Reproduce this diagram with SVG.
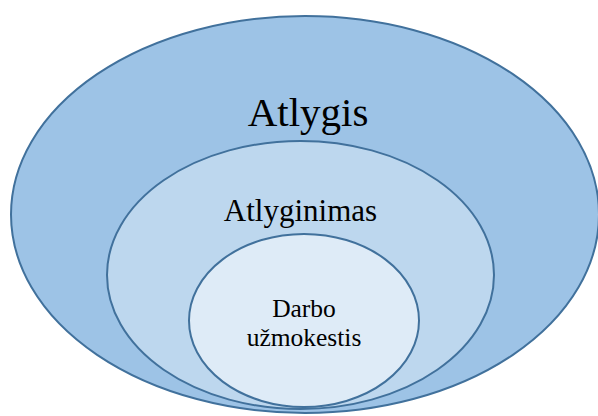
<svg xmlns="http://www.w3.org/2000/svg" width="598" height="416" viewBox="0 0 598 416">
<style>
.e{stroke:#41719c;stroke-width:2}
text{font-family:'Liberation Serif','Times New Roman',serif;fill:#000;text-anchor:middle}
</style>
<rect width="598" height="416" fill="#fff"/>
<g id="atlygis">
<ellipse class="e" cx="305" cy="214.5" rx="294" ry="198.5" fill="#9dc3e6"/>
<text x="308" y="126" font-size="41">Atlygis</text>
</g>
<g id="atlyginimas">
<ellipse class="e" cx="300.5" cy="275" rx="193.5" ry="134" fill="#bdd7ee"/>
<text x="300.5" y="221" font-size="31">Atlyginimas</text>
</g>
<g id="darbo">
<ellipse class="e" cx="304" cy="320.5" rx="115" ry="86.5" fill="#deebf7"/>
<text x="304" y="317" font-size="25.5">Darbo</text>
<text x="304" y="346" font-size="25.5">užmokestis</text>
</g>
<g id="connectors"/>
</svg>
